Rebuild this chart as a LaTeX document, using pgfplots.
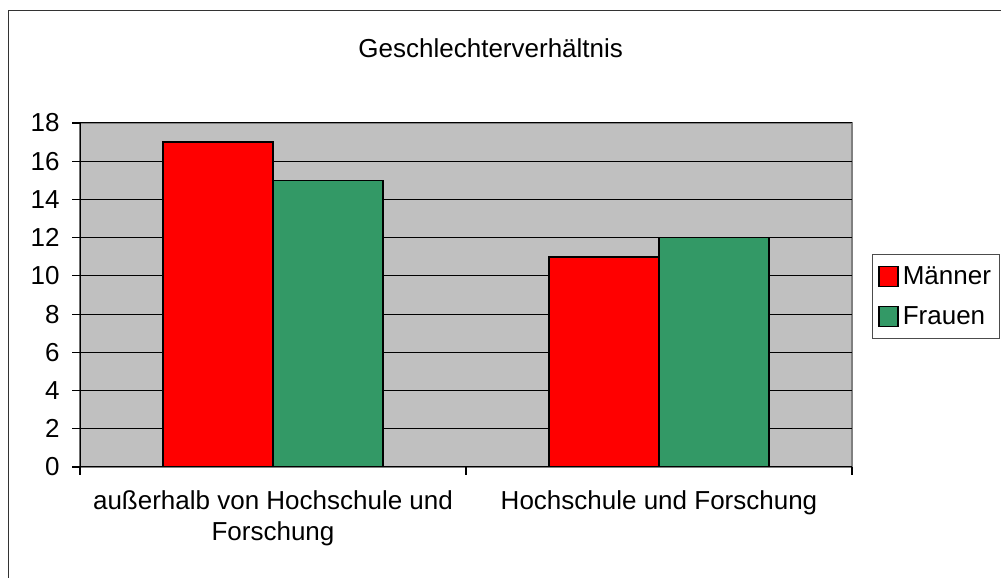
\documentclass[border=0pt]{standalone}
\usepackage{pgfplots}
\pgfplotsset{compat=1.18}
\usepackage{fontspec}
\setmainfont{Liberation Sans}
\definecolor{plotgray}{RGB}{192,192,192}
\definecolor{borgray}{RGB}{128,128,128}
\definecolor{exred}{RGB}{255,0,0}
\definecolor{exgreen}{RGB}{51,153,102}
\begin{document}
\begin{tikzpicture}
\useasboundingbox (0pt,0pt) rectangle (1001pt,578pt);
\draw[black!80, line width=1.6pt] (8.5pt,-10pt) -- (8.5pt,567.5pt) -- (1020pt,567.5pt);
\begin{axis}[
  at={(80pt,111pt)}, anchor=south west,
  scale only axis, width=772pt, height=344pt,
  ybar=0pt, bar width=110pt,
  xmin=-0.5, xmax=1.5, ymin=0, ymax=18,
  ytick={0,2,...,18},
  xtick={-0.5,0.5,1.5}, xticklabels={},
  extra x ticks={0,1},
  extra x tick labels={{außerhalb von Hochschule und\\Forschung},{Hochschule und Forschung}},
  extra x tick style={major tick length=0pt, grid=none,
     tick label style={align=center, anchor=north, yshift=-20pt}},
  tick align=outside, major tick length=8pt,
  tick style={black, line width=1.2pt},
  xtick pos=bottom, ytick pos=left,
  ymajorgrids, grid style={black, line width=1pt},
  axis line style={draw=none},
  axis background/.style={fill=plotgray, draw=borgray, line width=2pt},
  /pgf/number format/assume math mode=true,
  tick label style={font=\fontsize{26}{31}\selectfont},
  yticklabel style={xshift=-9pt},
  title={Geschlechterverhältnis},
  title style={at={(0.532,1.172)}, anchor=base, font=\fontsize{26}{31}\selectfont},
  legend style={at={(1.026,0.619)}, anchor=north west, draw=black!70, line width=0.8pt,
     font=\fontsize{26}{31}\selectfont, inner xsep=6pt, inner ysep=10.5pt, row sep=16.5pt,
     cells={anchor=west}},
  legend image code/.code={\draw[#1, line width=1.2pt] (0pt,-10pt) rectangle (19pt,10pt); \path (21pt,0pt);},
]
\addplot[draw=black, line width=1.5pt, fill=exred] coordinates {(0,17) (1,11)};
\addplot[draw=black, line width=1.5pt, fill=exgreen] coordinates {(0,15) (1,12)};
\legend{Männer,Frauen}
\draw[black, line width=1.5pt] (rel axis cs:0,1) -- (rel axis cs:0,0) -- (rel axis cs:1,0);
\end{axis}
\end{tikzpicture}
\end{document}
